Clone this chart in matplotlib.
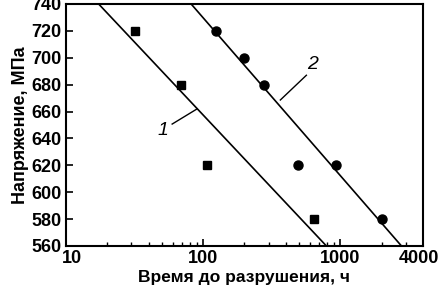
import matplotlib
matplotlib.use("Agg")
import matplotlib.pyplot as plt
import numpy as np
from matplotlib.ticker import FixedLocator, LogLocator, NullFormatter
from matplotlib.transforms import ScaledTranslation

plt.rcParams['font.family'] = ['Liberation Sans', 'DejaVu Sans']

sq_x = [32, 69, 107, 646]
sq_y = [720, 680, 620, 580]
ci_x = [124, 199, 279, 490, 935, 2027]
ci_y = [720, 700, 680, 620, 620, 580]
line1_x = [17.3, 791]
line2_x = [81.7, 2788]
line_y = [740, 560]
x_ticks = [10, 100, 1000, 4000]
x_ticklabels = ["10", "100", "1000", "4000"]
y_ticks = [560, 580, 600, 620, 640, 660, 680, 700, 720, 740]

fig = plt.figure(figsize=(4.43, 2.97), dpi=100)
ax = fig.add_axes([66/443, 1-246/297, (423-66)/443, (246-4)/297])
ax.set_xscale('log')
ax.plot(line1_x, line_y, color='black', lw=1.2)
ax.plot(line2_x, line_y, color='black', lw=1.2)
ax.plot(sq_x, sq_y, 's', color='black', ms=6, ls='none')
ax.plot(ci_x, ci_y, 'o', color='black', ms=6.5, ls='none')

ax.set_xlim(10, 4000)
ax.set_ylim(560, 740)
ax.xaxis.set_major_locator(FixedLocator(x_ticks))
ax.set_xticklabels(x_ticklabels)
ax.xaxis.set_minor_locator(LogLocator(base=10, subs=np.arange(2, 10)))
ax.xaxis.set_minor_formatter(NullFormatter())
ax.set_yticks(y_ticks)
ax.tick_params(axis='both', which='major', direction='in', length=5, width=1.2,
               labelsize=13, pad=3)
ax.tick_params(axis='x', which='minor', direction='in', length=3, width=1)
for lab in ax.get_xticklabels() + ax.get_yticklabels():
    lab.set_fontweight('bold')
xl = ax.get_xticklabels()
xl[0].set_transform(xl[0].get_transform() + ScaledTranslation(4/72, 0, fig.dpi_scale_trans))
xl[-1].set_transform(xl[-1].get_transform() + ScaledTranslation(-3/72, 0, fig.dpi_scale_trans))
for s in ax.spines.values():
    s.set_linewidth(1.5)

ax.set_xlabel("Время до разрушения, ч", fontsize=12.5, fontweight='bold', labelpad=2)
ax.set_ylabel("Напряжение, МПа", fontsize=13, fontweight='bold', labelpad=2)

ax.plot([59.4, 90.3], [650.7, 662], color='black', lw=1)
ax.text(51, 646, "1", fontsize=14, fontstyle='italic', ha='center', va='center')
ax.plot([565, 365], [687, 668.6], color='black', lw=1)
ax.text(625, 695, "2", fontsize=14, fontstyle='italic', ha='center', va='center')

fig.savefig("out.png", dpi=100)
